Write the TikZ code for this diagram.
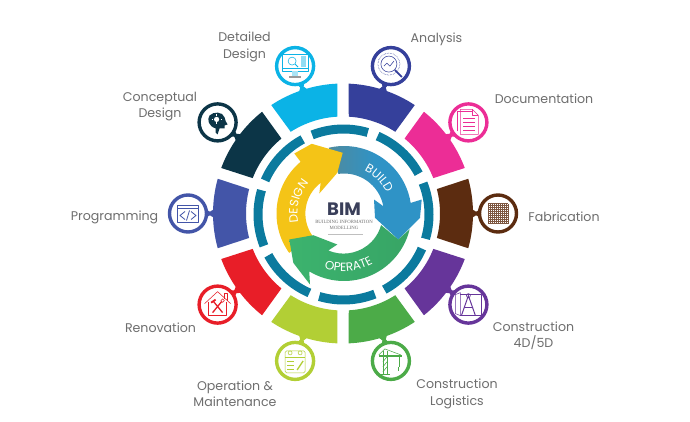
\documentclass[tikz,border=0pt]{standalone}
\usepackage{fontspec}
\setmainfont{Poppins}
\newfontfamily\subfont{Liberation Serif}
\usetikzlibrary{decorations.text}
\definecolor{cAna}{HTML}{35409B}
\definecolor{cDoc}{HTML}{EC2D96}
\definecolor{cFab}{HTML}{5C2C10}
\definecolor{cCon}{HTML}{66359A}
\definecolor{cLog}{HTML}{4CAB48}
\definecolor{cOpe}{HTML}{B2CF35}
\definecolor{cRen}{HTML}{E81E28}
\definecolor{cPro}{HTML}{4355A8}
\definecolor{cCpt}{HTML}{0C3547}
\definecolor{cDet}{HTML}{0BB3E6}
\definecolor{cRing}{HTML}{0B7A9E}
\definecolor{cLab}{HTML}{6E6E6E}
\definecolor{cYel}{HTML}{F4C417}
\definecolor{cBlu}{HTML}{2F93C6}
\definecolor{cBluD}{HTML}{4F8A9E}
\definecolor{cGrn}{HTML}{3CB36E}
\definecolor{cBim}{HTML}{3A3F5A}
\tikzset{
  lab/.style={text=cLab,font=\fontsize{12.6}{16.3}\selectfont,align=center,inner sep=0pt},
  badge/.style={circle,draw=#1,line width=3.4pt,fill=white,minimum size=37pt,inner sep=0pt},
  ico/.style={draw=#1,line width=0.55pt,line join=round},
}
\newcommand{\outerseg}[2]{%
  \fill[#2] (#1-15.5:130) arc[start angle=#1-15.5,end angle=#1+15.5,radius=130]
    -- (#1+14.6:97) arc[start angle=#1+14.6,end angle=#1-14.6,radius=97] -- cycle;
  \begin{scope}[rotate=#1]
    \fill[#2] (128,-5) -- (133,-1.8) -- (137,-4) -- (137,4) -- (133,1.8) -- (128,5) -- cycle;
  \end{scope}}
\newcommand{\ringarc}[1]{%
  \draw[cRing,line width=9pt] (#1-19:85.5) arc[start angle=#1-19,end angle=#1+19,radius=85.5];}
\begin{document}
\begin{tikzpicture}[x=1pt,y=1pt]
\useasboundingbox (0,0) rectangle (690,421);
\fill[white] (0,0) rectangle (690,421);
\begin{scope}[shift={(343,207.5)}]
  \outerseg{72}{cAna}
  \outerseg{36}{cDoc}
  \outerseg{0}{cFab}
  \outerseg{-36}{cCon}
  \outerseg{-72}{cLog}
  \outerseg{-108}{cOpe}
  \outerseg{-144}{cRen}
  \outerseg{180}{cPro}
  \outerseg{144}{cCpt}
  \outerseg{108}{cDet}
  \node[badge=cAna] (ana) at (72:155) {};
  \node[badge=cDoc] (doc) at (36:155) {};
  \node[badge=cFab] (fab) at (0:155) {};
  \node[badge=cCon] (con) at (-36:155) {};
  \node[badge=cLog] (log) at (-72:155) {};
  \node[badge=cOpe] (ope) at (-108:155) {};
  \node[badge=cRen] (ren) at (-144:155) {};
  \node[badge=cPro] (pro) at (180:155) {};
  \node[badge=cCpt] (cpt) at (144:155) {};
  \node[badge=cDet] (det) at (108:155) {};
  % ring
  \begin{scope}[shift={(0.5,-1)}]
    \ringarc{92.5}\ringarc{47.5}\ringarc{2.5}\ringarc{-42.5}
    \ringarc{-87.5}\ringarc{-132.5}\ringarc{-177.5}\ringarc{137.5}
  \end{scope}
  % arrows
  \begin{scope}[shift={(1,0)}]
    \shade[left color=cBluD,right color=cBlu,middle color=cBlu]
      (103:67.5) arc[start angle=103,end angle=9,radius=67.5]
      -- (77.7,14) -- (76,-4.3) -- (54.3,-26) -- (31,-4.3) -- (30,14) -- (39.3,7.3)
      arc[start angle=10.5,end angle=98,radius=40] -- cycle;
    \fill[cYel]
      (215.7:67.5) arc[start angle=215.7,end angle=130,radius=67.5]
      -- (-49.7,60) -- (-32.3,69.7) -- (-1.3,60.7) -- (-6.7,40.7) -- (-24.7,20) -- (-23.3,30.7)
      arc[start angle=127,end angle=215,radius=38.5] -- cycle;
    \shade[left color=cGrn,right color=cGrn!92!black]
      (-13.6:67.5) arc[start angle=-13.6,end angle=-121,radius=67.5]
      -- (-34,-71) -- (-50.7,-49.3) -- (-54.7,-26) -- (-30.7,-21.7) -- (-6.7,-31) -- (-15.7,-37)
      arc[start angle=-113,end angle=-15.6,radius=39] -- (54.3,-26) -- cycle;
    \path[decorate,decoration={text along path,text align=center,
        text={|\fontsize{12}{12}\selectfont\color{white}|DESIGN}}]
      (210:46.5) arc[start angle=210,end angle=120,radius=46.5];
    \path[decorate,decoration={text along path,text align=center,
        text={|\fontsize{12}{12}\selectfont\color{white}|BUILD}}]
      (90:47) arc[start angle=90,end angle=0,radius=47];
    \path[decorate,decoration={text along path,text align=center,
        text={|\fontsize{12}{12}\selectfont\color{white}|OPERATE}}]
      (-145:58) arc[start angle=-145,end angle=-25,radius=58];
    \node[text=cBim,font=\fontsize{18}{18}\selectfont\bfseries,inner sep=0pt] (bim) at (0,4.5) {BIM};
    \node[text=cLab,font=\subfont\fontsize{4.8}{6}\selectfont,align=center,inner sep=0pt] (sub) at (0,-11.5) {BUILDING INFORMATION\\MODELLING};
    \draw[black!25,line width=0.3pt] (-16,-20.5) -- (19,-20.5);
  \end{scope}
  % icons
  \begin{scope}[shift={(ana.center)}]
    \draw[ico=cAna] (-2,2) circle (8);
    \draw[ico=cAna] (-7,0) -- (-4,3) -- (-1,0) -- (3,5);
    \draw[cAna,line width=1.8pt] (4,-4) -- (11,-11);
    \draw[ico=cAna,densely dotted] (-2,2) circle (11);
  \end{scope}
  \begin{scope}[shift={(doc.center)}]
    \draw[ico=cDoc] (-11,-9) -- (-11,11) -- (4,11);
    \draw[ico=cDoc] (-8,-12) -- (-8,13) -- (4,13) -- (10,7) -- (10,-12) -- cycle;
    \draw[ico=cDoc] (4,13) -- (4,7) -- (10,7);
    \foreach \yy in {4,0,-4,-8} \draw[ico=cDoc] (-5,\yy) -- (7,\yy);
  \end{scope}
  \begin{scope}[shift={(fab.center)}]
    \draw[cFab!80!white,line width=0.35pt,step=2] (-10,-10) grid (10,10);
  \end{scope}
  \begin{scope}[shift={(con.center)}]
    \draw[ico=cCon] (-13,-9) -- (-13,10) -- (-8,12) -- (-8,-11) -- (-13,-9);
    \draw[ico=cCon] (-8,10) -- (13,10) -- (13,-11) -- (-8,-11);
    \draw[ico=cCon,line width=1pt] (-7,-11) -- (0,9) -- (7,-11);
    \draw[ico=cCon] (-4,-3) -- (4,-3);
    \draw[ico=cCon] (0,9) circle (2);
  \end{scope}
  \begin{scope}[shift={(log.center)}]
    \draw[ico=cLog] (-8,-13) -- (-8,10) (-4,-13) -- (-4,10);
    \foreach \yy in {-11,-6,-1} \draw[ico=cLog] (-8,\yy) -- (-4,\yy+5);
    \draw[cLog,line width=2.4pt] (-12,5) -- (11,5);
    \draw[ico=cLog] (-6,12) -- (-12,6) (-6,12) -- (10,6);
    \draw[ico=cLog] (8,4) -- (8,-6);
    \draw[cLog,line width=1pt] (8,-6) -- (8,-10);
    \draw[ico=cLog] (-11,-13) -- (-1,-13);
  \end{scope}
  \begin{scope}[shift={(ope.center)}]
    \draw[ico=cOpe,rounded corners=1.5pt] (-10,-12) rectangle (10,10);
    \draw[ico=cOpe] (-10,4) -- (10,4);
    \draw[ico=cOpe] (-5,8) circle (2) (5,8) circle (2);
    \draw[ico=cOpe] (-8,-4) -- (-1,-4) (-8,-8) -- (-1,-8) (-8,0) -- (-1,0);
    \draw[cOpe,line width=1.3pt] (2,-9) -- (8,0);
  \end{scope}
  \begin{scope}[shift={(ren.center)}]
    \draw[ico=cRen] (-13,1) -- (0,13) -- (13,1);
    \draw[ico=cRen] (-9,3) -- (-9,-11) -- (9,-11) -- (9,3);
    \draw[ico=cRen] (7,6) -- (7,11) -- (10,11) -- (10,4);
    \draw[cRen,line width=1.3pt] (-5,-8) -- (4,3) (5,-8) -- (-4,3);
    \draw[cRen,line width=1.8pt] (-6.5,2) -- (-2,5);
    \draw[ico=cRen] (5,4) circle (1.8);
  \end{scope}
  \begin{scope}[shift={(pro.center)}]
    \draw[ico=cPro] (-10.5,-8.5) rectangle (10.5,8.5);
    \draw[ico=cPro] (-10.5,5) -- (10.5,5);
    \draw[ico=cPro,line width=0.8pt] (-3,2) -- (-8,-2) -- (-3,-6) (3,2) -- (8,-2) -- (3,-6) (1.5,3) -- (-1.5,-7);
  \end{scope}
  \begin{scope}[shift={(cpt.center)}]
    \fill[cCpt] (-2,-10) -- (-2,-6) .. controls (-9,-4) and (-11,3) .. (-8,7)
      .. controls (-4,11) and (5,11) .. (7,5) .. controls (8,2) and (8,0) .. (10,-2)
      -- (7,-3) -- (7,-6) -- (2,-6) -- (0,-12) -- cycle;
    \fill[white] (-1,3) circle (2.6);
    \draw[white,line width=0.5pt] (-1,0) -- (-1,-2) (-6,3) -- (-4.5,3) (3,3) -- (4.5,3) (-1,6.5) -- (-1,8);
  \end{scope}
  \begin{scope}[shift={(det.center)}]
    \draw[ico=cDet] (-13,-5) rectangle (13,12);
    \draw[ico=cDet] (-13,-2) -- (13,-2);
    \fill[cDet!35!white] (-3,-5) rectangle (3,-10);
    \fill[cLab!70!white] (-6,-10) rectangle (6,-12);
    \draw[ico=cDet] (-3,5) circle (4);
    \draw[cDet,line width=1pt] (0,2) -- (3,-1);
    \fill[cDet!45!white] (6,-1) rectangle (11,10);
  \end{scope}
\end{scope}
% labels
\node[lab] (lDet) at (244.5,374) {Detailed\\Design};
\node[lab] (lCpt) at (160,314.5) {Conceptual\\Design};
\node[lab] (lPro) at (114.5,204) {Programming};
\node[lab] (lRen) at (160.5,93) {Renovation};
\node[lab] (lOpe) at (235,27) {Operation \&\\Maintenance};
\node[lab] (lLog) at (457,27) {Construction\\Logistics};
\node[lab] (lCon) at (533.5,85) {Construction\\4D/5D};
\node[lab] (lFab) at (564,204) {Fabrication};
\node[lab] (lDoc) at (544,322) {Documentation};
\node[lab] (lAna) at (436.5,382) {Analysis};
\end{tikzpicture}
\end{document}
